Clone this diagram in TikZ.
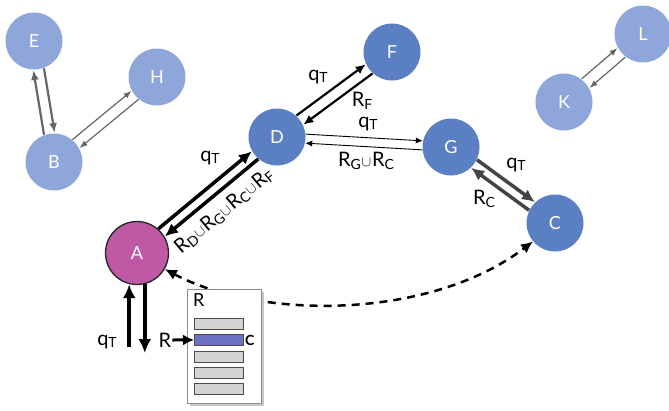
\documentclass[tikz,border=0pt]{standalone}
\usepackage{fontspec}
\setmainfont{Lato}
\usetikzlibrary{arrows.meta,calc,shadows}
\definecolor{mblue}{HTML}{5B7FC3}
\definecolor{lblue}{HTML}{8EA6D9}
\definecolor{magA}{HTML}{BF59A6}
\definecolor{gline}{HTML}{666666}
\definecolor{dgline}{HTML}{444444}
\definecolor{rowgray}{HTML}{D3D3D3}
\definecolor{rowblue}{HTML}{6C70C2}
\newcommand\sbx[1]{\raisebox{-0.25ex}{\fontsize{14}{14}\selectfont #1}}
\newcommand\cupx{\kern0.8pt\raisebox{0.05ex}{\fontsize{14}{14}\selectfont$\cup$}\kern0.8pt}
\newcommand\bidir[6]{%
  \draw[#6,shorten <=#4,shorten >=#5] ($(#1)!#3!90:(#2)$) -- ($(#2)!#3!-90:(#1)$);
  \draw[#6,shorten <=#5,shorten >=#4] ($(#2)!#3!90:(#1)$) -- ($(#1)!#3!-90:(#2)$);}
\begin{document}
\begin{tikzpicture}[x=1pt,y=-1pt,
  peer/.style={circle,fill=mblue,minimum size=57pt,inner sep=0pt,text=white,font=\fontsize{18}{18}\selectfont},
  far/.style={peer,fill=lblue},
  lab/.style={font=\fontsize{20}{20}\selectfont,inner sep=1pt},
  thickarr/.style={line width=3.5pt,-{Latex[length=13pt,width=12pt]}},
  midarr/.style={line width=2.2pt,-{Latex[length=10pt,width=9pt]}},
  thinarr/.style={line width=0.9pt,-{Latex[length=7pt,width=6pt]}},
  gcarr/.style={line width=3.5pt,draw=dgline,-{Latex[length=13pt,width=12pt]}},
  ebarr/.style={line width=2.2pt,draw=gline,-{Latex[length=10pt,width=8pt]}},
  farr/.style={line width=1.2pt,draw=gline,-{Latex[length=8pt,width=6pt]}},
  vertarr/.style={line width=4.5pt,-{Latex[length=14pt,width=13pt]}},
  row/.style={draw=black!70,fill=rowgray,line width=0.8pt,minimum width=49pt,minimum height=11pt,inner sep=0pt,anchor=north west}
]
\useasboundingbox (0,0) rectangle (669,410);

% nodes
\node[far] (E) at (34,41) {E};
\node[far] (H) at (157,77) {H};
\node[far] (B) at (54,162) {B};
\node[far] (L) at (643,34) {L};
\node[far] (K) at (564,102) {K};
\node[peer] (D) at (277,137) {D};
\node[peer] (F) at (392,52) {F};
\node[peer] (G) at (451,147) {G};
\node[peer] (C) at (555,223) {C};
\node[circle,fill=magA,draw=black!85,line width=1.3pt,minimum size=63pt,inner sep=0pt,text=white,font=\fontsize{18}{18}\selectfont] (A) at (137,253) {A};

% pairs of arrows
\bidir{A}{D}{5pt}{32pt}{28.5pt}{thickarr}
\bidir{D}{F}{5.7pt}{28.5pt}{28.5pt}{midarr}
\bidir{D}{G}{4.5pt}{28.5pt}{28.5pt}{thinarr}
\bidir{G}{C}{5pt}{28.5pt}{28.5pt}{gcarr}
\bidir{E}{B}{5.4pt}{28.5pt}{28.5pt}{ebarr}
\bidir{B}{H}{5.5pt}{28.5pt}{28.5pt}{farr}
\bidir{K}{L}{6pt}{28.5pt}{28.5pt}{farr}

% labels
\node[lab] (qAD) at (210,158) {q\sbx{T}};
\node[lab,rotate=40] (rAD) at (224,211) {R\sbx{D}\cupx R\sbx{G}\cupx R\sbx{C}\cupx R\sbx{F}};
\node[lab] (qDF) at (318,77) {q\sbx{T}};
\node[lab] (rDF) at (362,101) {R\sbx{F}};
\node[lab] (qDG) at (368,124) {q\sbx{T}};
\node[lab] (rDG) at (366,161) {R\sbx{G}\cupx R\sbx{C}};
\node[lab] (qGC) at (516,165) {q\sbx{T}};
\node[lab] (rGC) at (484,199) {R\sbx{C}};

% dashed curve A <-> C
\draw[line width=2.5pt,dash pattern=on 8pt off 6pt,{Latex[length=12pt,width=11pt]}-{Latex[length=12pt,width=11pt]}]
  (A.-30) .. controls (260,320) and (430,320) .. (C.-140);

% vertical arrows below A
\coordinate (lbot) at (0,347);
\coordinate (rbot) at (0,353);
\draw[vertarr] (A.-104 |- lbot) -- (A.-104);
\draw[vertarr] (A.-76) -- (A.-76 |- rbot);
\node[lab] (qA) at (107,342) {q\sbx{T}};

% table
\node[draw=black!45,fill=white,line width=0.8pt,drop shadow={shadow xshift=3pt,shadow yshift=-3pt,opacity=0.45},minimum width=74pt,minimum height=114pt,inner sep=0pt,anchor=north west] (tbl) at (187,289) {};
\node[font=\fontsize{18}{18}\selectfont,inner sep=0pt,anchor=north west] (tR) at (193,293) {R};
\node[row] (r1) at (194,318) {};
\node[row,fill=rowblue] (r2) at (194,334) {};
\node[row] (r3) at (194,351) {};
\node[row] (r4) at (194,367) {};
\node[row] (r5) at (194,383) {};
\node[font=\bfseries\fontsize{14}{14}\selectfont,inner sep=0pt,anchor=west] (cC) at (245,340) {C};
\node[lab] (Rin) at (165,340) {R};
\draw[line width=3pt,-{Latex[length=11pt,width=11pt]}] (Rin.east) -- (r2.west);
\end{tikzpicture}
\end{document}
